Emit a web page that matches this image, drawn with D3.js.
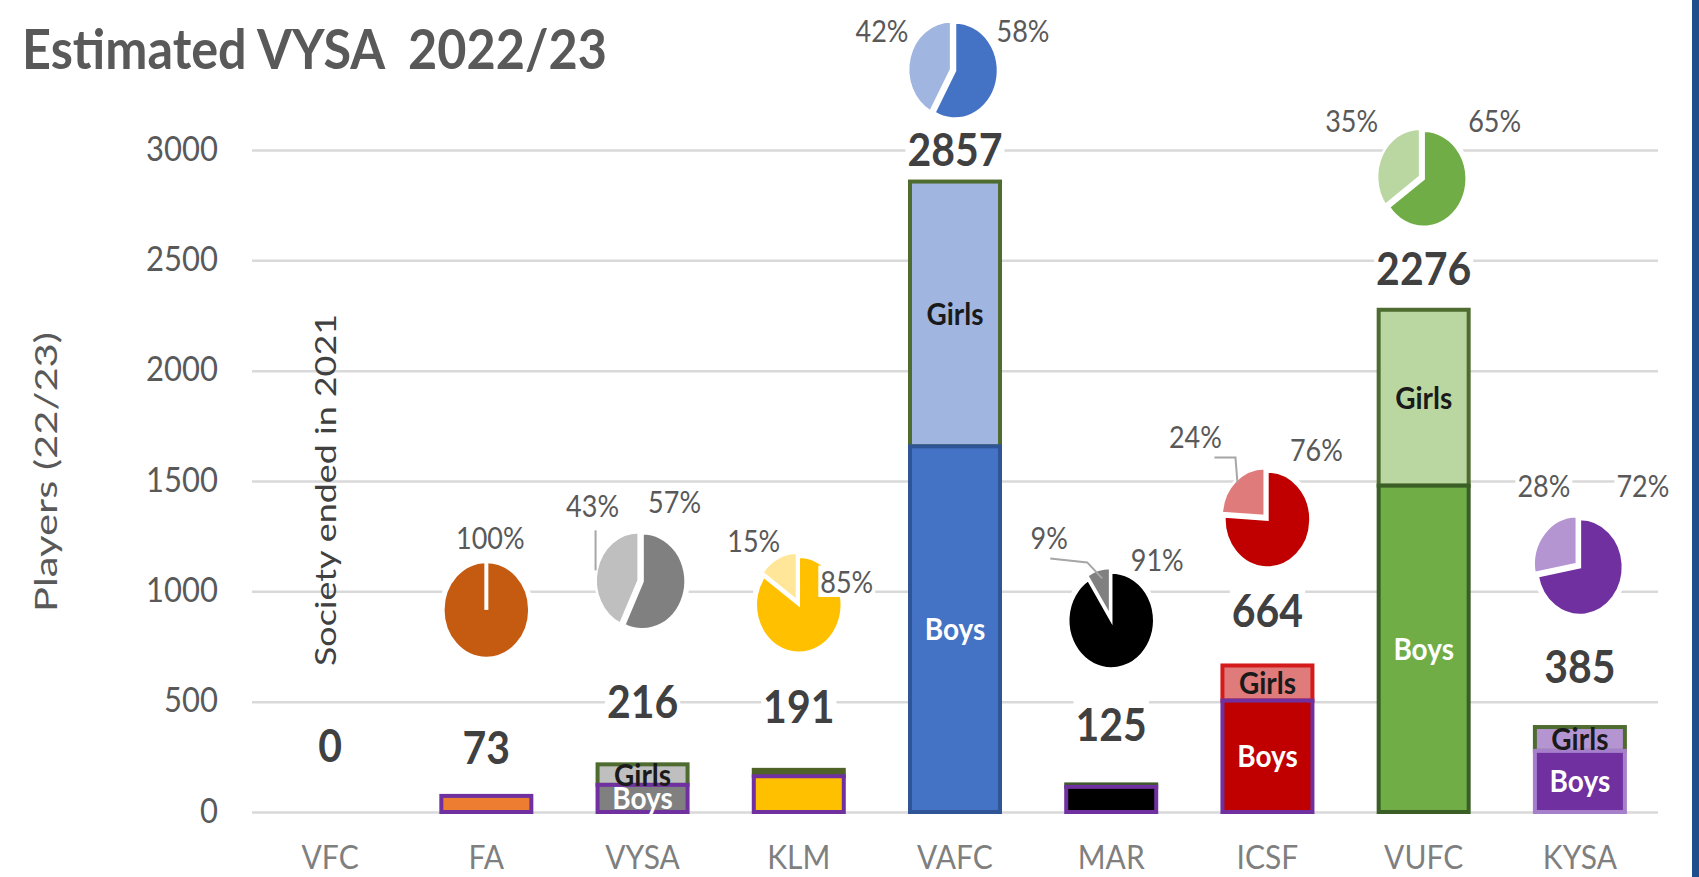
<!DOCTYPE html>
<html>
<head>
<meta charset="utf-8">
<script src="https://cdn.jsdelivr.net/npm/d3@7"></script>
<style>
  html, body { margin: 0; padding: 0; background: #fff; }
  svg { display: block; }
  text { font-family: Lato, "Open Sans", sans-serif; }
</style>
</head>
<body>
<svg id="chart" width="1699" height="877"></svg>
<script>
// values
const categories = ["VFC", "FA", "VYSA", "KLM", "VAFC", "MAR", "ICSF", "VUFC", "KYSA"];
const totals = [0, 73, 216, 191, 2857, 125, 664, 2276, 385];
const boys   = [0, 73, 123, 162, 1657, 114, 505, 1479, 277];
const girls  = [0, 0, 93, 29, 1200, 11, 159, 797, 108];
const boysPct  = [null, 100, 57, 85, 58, 91, 76, 65, 72];
const girlsPct = [null, 0, 43, 15, 42, 9, 24, 35, 28];
const yTicks = [0, 500, 1000, 1500, 2000, 2500, 3000];

// colours
const boysFill    = ["#000", "#ed7d31", "#808080", "#ffc000", "#4472c4", "#000000", "#c00000", "#70ad47", "#7030a0"];
const boysStroke  = ["#000", "#7030a0", "#7030a0", "#7030a0", "#2f5597", "#7030a0", "#7030a0", "#3a5e25", "#a67fcb"];
const girlsFill   = ["#000", "#f4b183", "#bfbfbf", "#4f6228", "#a0b6e0", "#3b5323", "#e07b7b", "#bad7a2", "#b595d1"];
const girlsStroke = ["#000", "#4e6b30", "#4e6b30", "#4f6228", "#4e6b30", "#3f5a2a", "#d41b1b", "#4e6b30", "#4e6b30"];
const pieBoys  = ["#000", "#c55a11", "#808080", "#ffc000", "#4472c4", "#000000", "#c00000", "#70ad47", "#7030a0"];
const pieGirls = ["#000", "#f4b183", "#bfbfbf", "#ffe699", "#a0b6e0", "#808080", "#e07b7b", "#bad7a2", "#b595d1"];

// hand placement of the annotations (pixels)
const labelLift = [50, 32, 46, 47, 16, 43, 38, 25, 44];
const pieLift   = [0, 154, 137, 118, 95, 121, 108, 106, 116];
const girlsPctOff = [null, null, [-50,-75], [-45,-64], [-73,-40], [-62,-82], [-72,-82], [-72,-58], [-36,-81]];
const boysPctOff  = [null, [4,-72], [32,-79], [48,-23], [68,-40], [46,-60], [49,-69], [71,-58], [63,-81]];
const segLabels = [false, false, true, false, true, false, true, true, true];
const leaders = {
  VYSA: [[-47,-51], [-47,-11]],
  MAR:  [[-61,-62], [-24,-58], [-9,-42]],
  ICSF: [[-53,-62], [-32,-62], [-30,-37]]
};

const SY = 1.12;   // the picture is a little stretched vertically
const svg = d3.select("#chart");
const plotL = 252, plotR = 1658, plotB = 812, plotT = 150;

const x = d3.scaleBand().domain(categories).range([plotL, plotR]).padding(0);
const y = d3.scaleLinear().domain([0, 3000]).range([plotB, plotT]);
const barW = 90;

svg.append("rect").attr("x", 1692).attr("y", 0).attr("width", 7).attr("height", 877).attr("fill", "#1f4e8c");

// title
svg.append("text")
  .attr("transform", `translate(22,69) scale(1,${SY})`)
  .style("white-space", "pre")
  .attr("font-size", 50).attr("font-weight", "bold").attr("fill", "#595959")
  .attr("textLength", 585).attr("lengthAdjust", "spacingAndGlyphs")
  .text("Estimated VYSA  2022/23");

// y axis with gridlines
const gy = svg.append("g").attr("transform", `translate(${plotL},0)`)
  .call(d3.axisLeft(y).tickValues(yTicks).tickFormat(d3.format("d"))
    .tickSizeInner(-(plotR - plotL)).tickSizeOuter(0).tickPadding(34));
gy.select(".domain").remove();
gy.selectAll(".tick line").attr("stroke", "#d9d9d9").attr("stroke-width", 2.5);
gy.selectAll(".tick text")
  .attr("dy", null).attr("y", 0)
  .attr("transform", `translate(0,10) scale(1,${SY})`)
  .attr("font-family", "Lato, sans-serif").attr("font-size", 31).attr("fill", "#595959");

// x axis labels
const gx = svg.append("g").attr("transform", `translate(0,${plotB})`)
  .call(d3.axisBottom(x).tickSize(0));
gx.select(".domain").remove();
gx.selectAll(".tick text")
  .attr("dy", null).attr("y", 0)
  .attr("transform", `translate(0,57) scale(1,${SY})`)
  .attr("font-family", "Lato, sans-serif").attr("font-size", 30).attr("fill", "#7f7f7f");

// axis title
svg.append("text")
  .attr("transform", `translate(57,472) rotate(-90)`)
  .attr("text-anchor", "middle").attr("font-size", 30).attr("fill", "#595959")
  .attr("textLength", 280).attr("lengthAdjust", "spacingAndGlyphs")
  .text("Players (22/23)");

svg.append("text")
  .attr("transform", `translate(336,490) rotate(-90)`)
  .attr("text-anchor", "middle").attr("font-size", 29).attr("fill", "#404040")
  .attr("textLength", 352).attr("lengthAdjust", "spacingAndGlyphs")
  .text("Society ended in 2021");

// bars
const idx = d3.range(categories.length).filter(i => totals[i] > 0);
const bars = svg.append("g");
idx.forEach(i => {
  const cx = x(categories[i]) + x.bandwidth() / 2;
  if (girls[i] > 0) {
    bars.append("rect")
      .attr("x", cx - barW / 2).attr("width", barW)
      .attr("y", y(boys[i] + girls[i])).attr("height", y(boys[i]) - y(boys[i] + girls[i]))
      .attr("fill", girlsFill[i]).attr("stroke", girlsStroke[i]).attr("stroke-width", 4);
  }
  bars.append("rect")
    .attr("x", cx - barW / 2).attr("width", barW)
    .attr("y", y(boys[i])).attr("height", y(0) - y(boys[i]))
    .attr("fill", boysFill[i]).attr("stroke", boysStroke[i]).attr("stroke-width", 4);

  if (segLabels[i]) {
    const gm = (y(boys[i]) + y(boys[i] + girls[i])) / 2;
    const bm = (y(0) + y(boys[i])) / 2;
    bars.append("text")
      .attr("transform", `translate(${cx},${gm + 11}) scale(1,${SY})`)
      .attr("text-anchor", "middle").attr("font-size", 28).attr("font-weight", "bold").attr("fill", "#1a1a1a")
      .text("Girls");
    bars.append("text")
      .attr("transform", `translate(${cx},${bm + 11}) scale(1,${SY})`)
      .attr("text-anchor", "middle").attr("font-size", 28).attr("font-weight", "bold").attr("fill", "#ffffff")
      .text("Boys");
  }
});

// text with white box behind it
function boxedText(parent, tx, ty, str, size, weight, color) {
  const g = parent.append("g").attr("transform", `translate(${tx},${ty}) scale(1,${SY})`);
  const rect = g.append("rect").attr("fill", "#fff");
  const t = g.append("text").attr("text-anchor", "middle")
    .attr("font-size", size).attr("font-weight", weight).attr("fill", color).text(str);
  const bb = t.node().getBBox();
  rect.attr("x", bb.x - 2).attr("y", bb.y + 2).attr("width", bb.width + 4).attr("height", bb.height - 4);
  return g;
}

// totals
const labels = svg.append("g");
categories.forEach((c, i) => {
  const cx = x(c) + x.bandwidth() / 2;
  boxedText(labels, cx, y(totals[i]) - labelLift[i], String(totals[i]), 41, "bold", "#404040");
});

// pies
const arc = d3.arc().innerRadius(0).outerRadius(43);
const pieGen = d3.pie().sort(null).value(d => d);
const pies = svg.append("g");
idx.forEach(i => {
  const c = categories[i];
  const cx = x(c) + x.bandwidth() / 2;
  const cy = y(totals[i]) - labelLift[i] - pieLift[i];
  const g = pies.append("g").attr("transform", `translate(${cx},${cy}) scale(1,${SY})`);
  g.append("circle").attr("r", 47).attr("fill", "#fff");
  const slices = pieGen([boysPct[i], girlsPct[i]]);
  const cols = [pieBoys[i], pieGirls[i]];
  slices.forEach((s, k) => {
    if (s.endAngle - s.startAngle <= 0) return;
    const mid = (s.startAngle + s.endAngle) / 2;
    const e = k === 1 ? 4 : 0;
    g.append("path")
      .attr("d", arc(s))
      .attr("transform", `translate(${Math.sin(mid) * e},${-Math.cos(mid) * e})`)
      .attr("fill", cols[k]).attr("stroke", "#fff").attr("stroke-width", 2.5);
  });
  if (girlsPct[i] === 0) {
    g.append("line").attr("x1", 0).attr("y1", 0).attr("x2", 0).attr("y2", -45)
      .attr("stroke", "#fff").attr("stroke-width", 4);
  }

  if (leaders[c]) {
    pies.append("path")
      .attr("d", d3.line()(leaders[c].map(p => [cx + p[0], cy + p[1]])))
      .attr("fill", "none").attr("stroke", "#a6a6a6").attr("stroke-width", 2);
  }
  if (girlsPctOff[i]) {
    const o = girlsPctOff[i];
    boxedText(pies, cx + o[0], cy + o[1] + 11, girlsPct[i] + "%", 27, "normal", "#595959");
  }
  const o = boysPctOff[i];
  boxedText(pies, cx + o[0], cy + o[1] + 11, boysPct[i] + "%", 27, "normal", "#595959");
});
</script>
</body>
</html>
